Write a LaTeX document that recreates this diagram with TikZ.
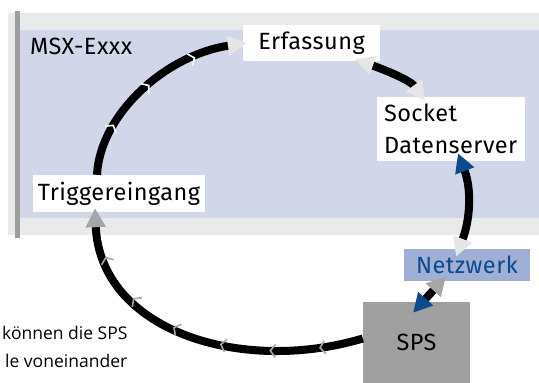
\documentclass[tikz,border=0pt]{standalone}
\usepackage{fontspec}
\setmainfont{Fira Sans}[LetterSpace=2]
\newfontfamily\notefont{Open Sans}
\usetikzlibrary{arrows.meta,decorations.markings}

\definecolor{panelgrey}{HTML}{E9EBEA}
\definecolor{bargrey}{HTML}{9D9D9D}
\definecolor{devicebg}{HTML}{D1D6E8}
\definecolor{netfill}{HTML}{A0AFD5}
\definecolor{netblue}{HTML}{0B4A8F}
\definecolor{tiplight}{HTML}{E6E6E6}
\definecolor{tipgrey}{HTML}{A6A6A6}
\definecolor{spsgrey}{HTML}{A0A0A0}

\tikzset{
  labelbox/.style={fill=white, inner sep=0pt, font=\fontsize{23.5}{28}\selectfont},
  link/.style={line width=8pt},
}

\begin{document}
\begin{tikzpicture}[x=1pt, y=-1pt, line cap=butt]
  \useasboundingbox (0,0) rectangle (539,383);

  % device panel
  \fill[panelgrey] (8,13) rectangle (539,235);
  \fill[devicebg] (20,30) rectangle (539,218);
  \fill[bargrey] (15,11) rectangle (20,238);
  \node[anchor=base west, font=\fontsize{23.5}{28}\selectfont, inner sep=0pt] (dev) at (30,54) {MSX-Exxx};

  % boxes
  \node[labelbox, minimum width=137pt, minimum height=36pt] (erf) at (311.5,43) {Erfassung};
  \node[labelbox, minimum height=64pt, text width=134pt, inner xsep=7pt, align=left,
        font=\fontsize{23.5}{32}\selectfont] (soc) at (451,129) {Socket\\Datenserver};
  \node[labelbox, minimum width=172pt, minimum height=37pt] (trig) at (119,193.5) {Triggereingang};
  \node[fill=netfill, text=netblue, inner sep=0pt, minimum width=126pt, minimum height=32pt,
        font=\fontsize{23.5}{28}\selectfont] (net) at (467,265) {Netzwerk};
  \node[fill=spsgrey, inner sep=0pt, minimum width=107pt, minimum height=81pt,
        font=\fontsize{23.5}{28}\selectfont] (sps) at (416.5,342.5) {SPS};

  % note text, cut at the left edge
  \begin{scope}
    \clip (0,0) rectangle (539,383);
    \node[anchor=base west, inner sep=0pt, font=\notefont\fontsize{17.5}{20}\selectfont] (note1) at (2,339) {können die SPS};
    \node[anchor=base west, inner sep=0pt, font=\notefont\fontsize{17.5}{20}\selectfont] (note2) at (5,367) {le voneinander};
  \end{scope}

  % trigger -> acquisition
  \draw[link, -{Triangle[length=19pt,width=19pt,color=tiplight]},
        postaction={decorate, decoration={markings,
          mark=between positions 0.25 and 0.8 step 0.25 with
          {\arrow[color=white, line width=1.6pt]{Straight Barb[length=5pt,width=13pt]}}}}]
    ([xshift=-22pt]trig.north) .. controls (100,115) and (165,55) .. ([xshift=4pt]erf.west);

  % acquisition <-> socket server
  \draw[link, {Triangle[length=19pt,width=19pt,color=tiplight]}-{Triangle[length=19pt,width=19pt,color=tiplight]}]
    ([xshift=43.5pt,yshift=2pt]erf.south) .. controls (385,70) and (410,80) .. ([xshift=-26pt,yshift=-4pt]soc.north);

  % socket server <-> network
  \draw[link, {Triangle[length=19pt,width=19pt,color=netblue]}-{Triangle[length=19pt,width=19pt,color=tiplight]}]
    ([xshift=7pt,yshift=8pt]soc.south) .. controls (472,190) and (470,220) .. ([xshift=-11pt,yshift=-8pt]net.north);

  % network <-> SPS
  \draw[link, {Triangle[length=19pt,width=19pt,color=tipgrey]}-{Triangle[length=19pt,width=19pt,color=netblue]}]
    ([xshift=-21pt,yshift=5pt]net.south) -- ([xshift=-3.5pt,yshift=-11pt]sps.north);

  % SPS -> trigger input
  \draw[link, -{Triangle[length=19pt,width=19pt,color=tipgrey]},
        postaction={decorate, decoration={markings,
          mark=between positions 0.13 and 0.9 step 0.145 with
          {\arrow[color=tipgrey, line width=1.6pt]{Straight Barb[length=5pt,width=13pt]}}}}]
    ([yshift=4pt]sps.west) .. controls (240,375) and (100,330) .. ([xshift=-24pt,yshift=4pt]trig.south);
\end{tikzpicture}
\end{document}
